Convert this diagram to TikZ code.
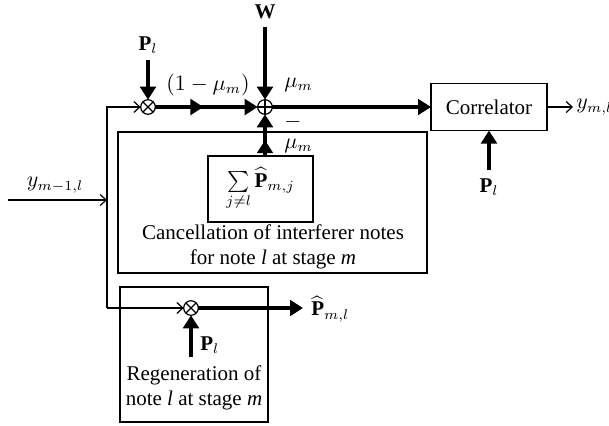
\documentclass[tikz,border=0pt]{standalone}
\usepackage{amsmath,amssymb}
\usepackage{fontspec}
\setmainfont{Liberation Serif}
\usepackage{tikz}
\usetikzlibrary{arrows.meta,positioning,calc,decorations.markings}
\newcommand{\blockfont}{\fontsize{10.5}{12.5}\selectfont}
\tikzset{
    every picture/.style={line join=miter},
    blockbox/.style={draw,line width=0.6pt,inner sep=2pt,outer sep=0pt,
      font=\blockfont,align=center},
    blocktext/.style={inner sep=1pt,font=\blockfont,align=center},
    siglabel/.style={inner sep=1pt,font=\blockfont},
    mixer/.style={circle,draw,line width=0.6pt,minimum size=7.3pt,inner sep=0pt,
      outer sep=0pt,fill=white,
      path picture={\draw[line width=0.6pt]
        (path picture bounding box.north west)--(path picture bounding box.south east)
        (path picture bounding box.north east)--(path picture bounding box.south west);}},
    adder/.style={circle,draw,line width=0.6pt,minimum size=7.3pt,inner sep=0pt,
      outer sep=0pt,fill=white,
      path picture={\draw[line width=0.6pt]
        (path picture bounding box.north)--(path picture bounding box.south)
        (path picture bounding box.east)--(path picture bounding box.west);}},
    thickarrow/.style={line width=2.3pt,-{Triangle[length=6.5pt,width=7.8pt]}},
    thinarrow/.style={line width=0.6pt,-{Straight Barb[length=3pt,width=5.5pt]}},
    midarrow/.style={postaction={decorate},decoration={markings,
      mark=at position #1 with {\arrow{Triangle[length=6.5pt,width=7.8pt]}}}}
}
\begin{document}
\begin{tikzpicture}[x=0.5pt,y=-0.5pt]
  \useasboundingbox (0,0) rectangle (609,425);
  % summing junction and correlator
  \node[mixer] (mixA) at (148,107) {};
  \node[adder] (add) at (265,107) {};
  \node[blockbox,minimum width=58pt,minimum height=23.5pt] (corr) at (489,107) {Correlator};
  \node[siglabel] (W) at (265,12) {$\mathbf{W}$};
  \node[siglabel] (PlA) at (148,45) {$\mathbf{P}_l$};
  \node[siglabel] (PlC) at (489,187) {$\mathbf{P}_l$};
  \node[siglabel] (oneminus) at (208,85) {$(1-\mu_m)$};
  \node[siglabel,anchor=west] (muW) at (282,85) {$\mu_m$};
  \node[siglabel] (minus) at (293,122) {$-$};
  \node[siglabel,anchor=west] (muS) at (282,146) {$\mu_m$};
  \node[siglabel,anchor=west] (yout) at (574,107) {$y_{m,l}$};
  % cancellation block
  \node[blockbox,minimum width=154.5pt,minimum height=70.5pt] (cancel) at (272.5,202.5) {};
  \node[blockbox,minimum width=52.5pt,minimum height=33pt] (sum) at (260.5,189)
    {$\sum\limits_{j\neq l}\widehat{\mathbf{P}}_{m,j}$};
  \node[blocktext] (canceltxt) at (273,247) {Cancellation of interferer notes\\for note \textit{l} at stage \textit{m}};
  % regeneration block
  \node[blockbox,minimum width=74pt,minimum height=67.5pt] (regen) at (194,354.5) {};
  \node[mixer] (mixB) at (191,308) {};
  \node[siglabel,anchor=west] (PlB) at (198,345) {$\mathbf{P}_l$};
  \node[blocktext] (regentxt) at (194,388) {Regeneration of\\note \textit{l} at stage \textit{m}};
  \node[siglabel,anchor=west] (Phat) at (309,309) {$\widehat{\mathbf{P}}_{m,l}$};
  \node[siglabel] (yin) at (55,185) {$y_{m-1,l}$};
  % thin signal paths
  \coordinate (tapT) at (107,107);
  \coordinate (tapB) at (107,308);
  \coordinate (inS) at (8,200);
  \coordinate (youtE) at (573,107);
  \coordinate (PhatE) at (303,308);
  \coordinate (PlBS) at (191,357);
  \coordinate (sumT) at (sum.north -| add);
  \draw[thinarrow] (inS) -- (inS -| tapT);
  \draw[thinarrow] (tapB) -- (tapT) -- (mixA);
  \draw[thinarrow] (tapB) -- (mixB);
  \draw[thinarrow] (corr) -- (youtE);
  % thick signal paths
  \draw[thickarrow] ([yshift=-3pt]W.south) -- (add);
  \draw[thickarrow] ([yshift=-2pt]PlA.south) -- (mixA);
  \draw[thickarrow,midarrow=0.47] (mixA) -- (add);
  \draw[thickarrow,midarrow=0.38] (sumT) -- (add);
  \draw[thickarrow] (add) -- (corr);
  \draw[thickarrow] ([yshift=3pt]PlC.north) -- (corr);
  \draw[thickarrow] (mixB) -- (PhatE);
  \draw[thickarrow] (PlBS) -- (mixB);
\end{tikzpicture}
\end{document}
